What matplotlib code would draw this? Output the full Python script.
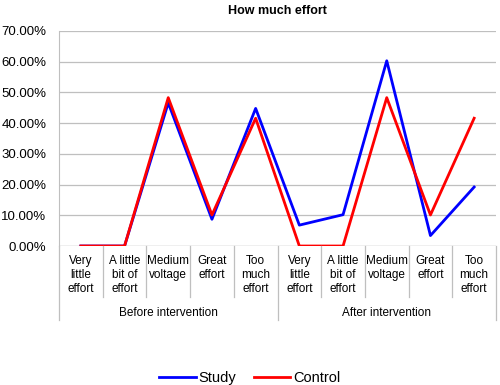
import numpy as np
import matplotlib
matplotlib.use('Agg')
import matplotlib.pyplot as plt
from matplotlib.ticker import FuncFormatter

plt.rcParams['font.family'] = ['Liberation Sans', 'DejaVu Sans']

categories = ['Very\nlittle\neffort', 'A little\nbit of\neffort', 'Medium\nvoltage',
              'Great\neffort', 'Too\nmuch\neffort']
groups = ['Before intervention', 'After intervention']
study = [0.0, 0.0, 46.6, 8.7, 44.8, 6.8, 10.2, 60.3, 3.4, 19.2]
control = [0.0, 0.0, 48.3, 10.1, 41.6, 0.0, 0.0, 48.3, 10.1, 41.6]

fig = plt.figure(figsize=(5, 3.85), dpi=100)
ax = fig.add_axes([0.118, 0.361, 0.874, 0.5585])

n = len(study)
x = np.arange(n) + 0.5
ax.plot(x, study, color='#0000ff', lw=2, label='Study')
ax.plot(x, control, color='#ff0000', lw=2, label='Control')

ax.set_xlim(0, n)
ax.set_ylim(0, 70)
ax.set_yticks(np.arange(0, 71, 10))
ax.yaxis.set_major_formatter(FuncFormatter(lambda v, p: '%.2f%%' % v))
ax.tick_params(axis='y', length=0, labelsize=9.5, pad=9)
ax.set_xticks([])
ax.grid(axis='y', color='#bfbfbf', lw=0.9)
ax.set_axisbelow(True)
for s in ['top', 'right', 'bottom']:
    ax.spines[s].set_visible(False)
ax.spines['left'].set_color('#bfbfbf')
ax.axhline(0, color='#bfbfbf', lw=0.9, zorder=0)

trans = ax.get_xaxis_transform()
# category labels and separators
for i in range(n):
    ax.text(i + 0.5, -0.04, categories[i % 5], transform=trans, ha='center', va='top',
            fontsize=8.5, linespacing=1.25)
for i in range(n + 1):
    bottom = -0.345 if i % 5 == 0 else -0.237
    ax.plot([i, i], [0, bottom], transform=trans, color='#bfbfbf', lw=0.9, clip_on=False)
for g, name in enumerate(groups):
    ax.text(g * 5 + 2.5, -0.31, name, transform=trans, ha='center', va='center', fontsize=8.5)

ax.set_title('How much effort', fontsize=9, fontweight='bold', pad=12)
fig.legend(loc='lower center', ncol=2, frameon=False, fontsize=10.5,
           bbox_to_anchor=(0.5, -0.035), handlelength=2.5, columnspacing=1.2, handletextpad=0.2)

fig.savefig('out.png', dpi=100)
